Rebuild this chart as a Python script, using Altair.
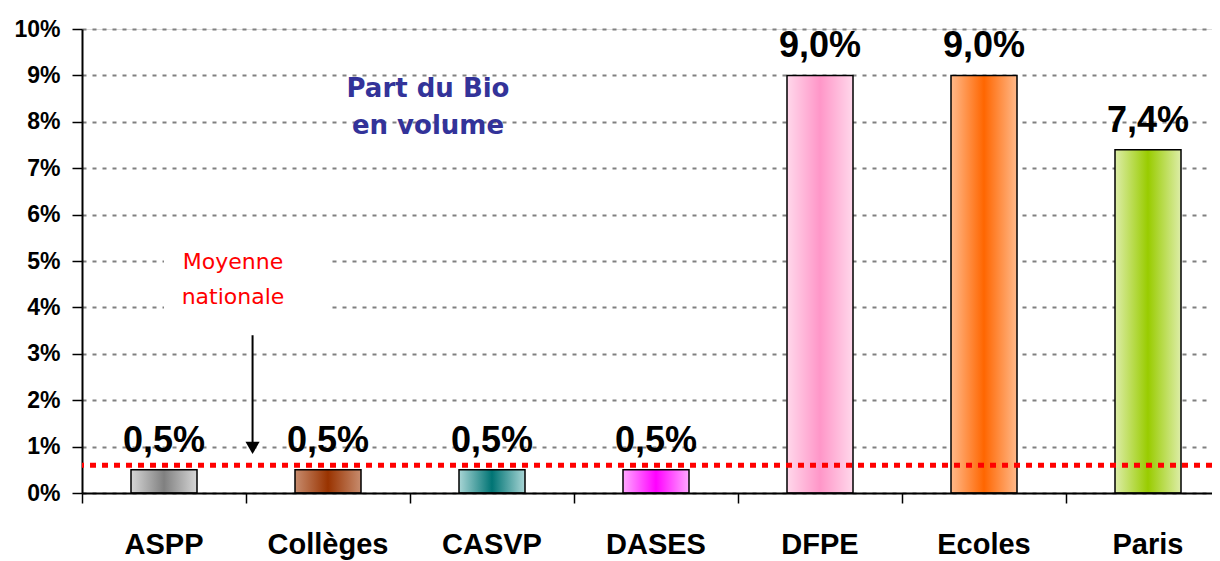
import altair as alt
import pandas as pd

# ---------------- data ----------------
categories = ["ASPP", "Collèges", "CASVP", "DASES", "DFPE", "Ecoles", "Paris"]
values = [0.5, 0.5, 0.5, 0.5, 9.0, 9.0, 7.4]
edge_colors = ["#D6D6D6", "#C78C6E", "#A8D5D5", "#FFA8FF", "#FFD8EB", "#FFB98A", "#DDEDA8"]
center_colors = ["#808080", "#993300", "#007474", "#FF00FF", "#FF96C8", "#FF6600", "#99CC00"]
y_ticks = [0, 1, 2, 3, 4, 5, 6, 7, 8, 9, 10]
national_average = [0.6]
note_label = ["Moyenne\nnationale"]
note_anchor = ["ASPP"]
note_y = [4.97]
note_box_from = ["ASPP"]
note_box_to = ["Collèges"]
note_box_low = [3.75]
note_box_high = [5.55]
arrow_anchor = ["Collèges"]
arrow_top = [3.4]
arrow_head = [0.97]
title_label = ["Part du Bio\nen volume"]
title_anchor = ["Collèges"]
title_y = [8.7]

df = pd.DataFrame({"cat": categories, "v": values})
avg_df = pd.DataFrame({"avg": national_average})
note_df = pd.DataFrame({"cat": note_anchor, "y": note_y, "t": note_label})
box_df = pd.DataFrame({"cat": note_box_from, "cat2": note_box_to,
                       "y": note_box_low, "y2": note_box_high})
arrow_df = pd.DataFrame({"cat": arrow_anchor, "y": arrow_top, "y2": arrow_head})
title_df = pd.DataFrame({"cat": title_anchor, "y": title_y, "t": title_label})

SANS = "Liberation Sans, Arial"

x_scale = alt.Scale(domain=categories, range=[0, 1148], paddingInner=0, paddingOuter=0)
y_scale = alt.Scale(domain=[0, 10], nice=False, zero=True)

x_axis = alt.Axis(
    title=None, bandPosition=0, tickSize=10, tickColor="black", tickWidth=1.5,
    domainColor="black", domainWidth=2, labelFont=SANS, labelFontSize=29,
    labelFontWeight="bold", labelColor="black", labelAngle=0, labelPadding=50,
    labelBaseline="alphabetic", grid=False,
)
y_axis = alt.Axis(
    title=None, values=y_ticks, labelExpr="datum.value + '%'", tickSize=10,
    tickColor="black", tickWidth=1.5, domainColor="black", domainWidth=2,
    labelFont=SANS, labelFontSize=23, labelFontWeight="bold", labelColor="black",
    labelPadding=12, grid=True, gridColor="#808080", gridDash=[4, 6], gridWidth=2,
)


def X(field="cat:N", **kw):
    return alt.X(field, sort=categories, scale=x_scale, axis=x_axis, **kw)


def Y(field):
    return alt.Y(field, scale=y_scale, axis=y_axis)


layers = []
for cat, edge, center in zip(categories, edge_colors, center_colors):
    grad = alt.Gradient(
        gradient="linear", x1=0, x2=1, y1=0, y2=0,
        stops=[alt.GradientStop(color=edge, offset=0),
               alt.GradientStop(color=center, offset=0.5),
               alt.GradientStop(color=edge, offset=1)],
    )
    layers.append(
        alt.Chart(df).transform_filter(alt.datum.cat == cat)
        .mark_bar(size=66, fill=grad, stroke="black", strokeWidth=1.5)
        .encode(x=X(), y=Y("v:Q"))
    )

labels = (
    alt.Chart(df)
    .transform_calculate(lbl="replace(format(datum.v, '.1f'), '.', ',') + '%'")
    .mark_text(font=SANS, fontSize=36, fontWeight="bold",
               color="black", baseline="alphabetic", dy=-18)
    .encode(x=X(), y=Y("v:Q"), text="lbl:N")
)

avg_rule = (
    alt.Chart(avg_df)
    .mark_rule(color="#FF0000", strokeWidth=5, strokeDash=[6, 6])
    .encode(y=Y("avg:Q"))
)

note_box = (
    alt.Chart(box_df)
    .mark_rect(color="white", opacity=1)
    .encode(x=X(), x2="cat2:N", y=Y("y:Q"), y2="y2:Q")
)

arrow_line = (
    alt.Chart(arrow_df)
    .mark_rule(color="black", strokeWidth=2)
    .encode(x=X(bandPosition=0.04), y=Y("y:Q"), y2="y2:Q")
)
arrow_tip = (
    alt.Chart(arrow_df)
    .mark_point(shape="triangle-down", filled=True, color="black", size=200, opacity=1)
    .encode(x=X(bandPosition=0.04), y=Y("y2:Q"))
)

note = (
    alt.Chart(note_df)
    .transform_calculate(t="split(datum.t, '\\n')")
    .mark_text(font="DejaVu Sans", fontSize=22, color="#FF0000", lineHeight=35,
               align="center", baseline="middle", dx=-13)
    .encode(x=X(bandPosition=1), y=Y("y:Q"), text="t:N")
)

title_txt = (
    alt.Chart(title_df)
    .transform_calculate(t="split(datum.t, '\\n')")
    .mark_text(font="DejaVu Sans", fontSize=26, fontWeight="bold", color="#333399",
               lineHeight=37, align="center", baseline="middle", dx=18)
    .encode(x=X(bandPosition=1), y=Y("y:Q"), text="t:N")
)

chart = (
    alt.layer(note_box, *layers, labels, avg_rule, arrow_line, arrow_tip, note, title_txt)
    .properties(
        width=1130, height=464,
        autosize=alt.AutoSizeParams(type="none"),
        padding={"left": 74, "top": 21, "right": 0, "bottom": 68},
    )
    .configure_view(stroke=None)
    .configure(background="white")
)

chart.save("out.html", embed_options={"renderer": "svg", "actions": False})
